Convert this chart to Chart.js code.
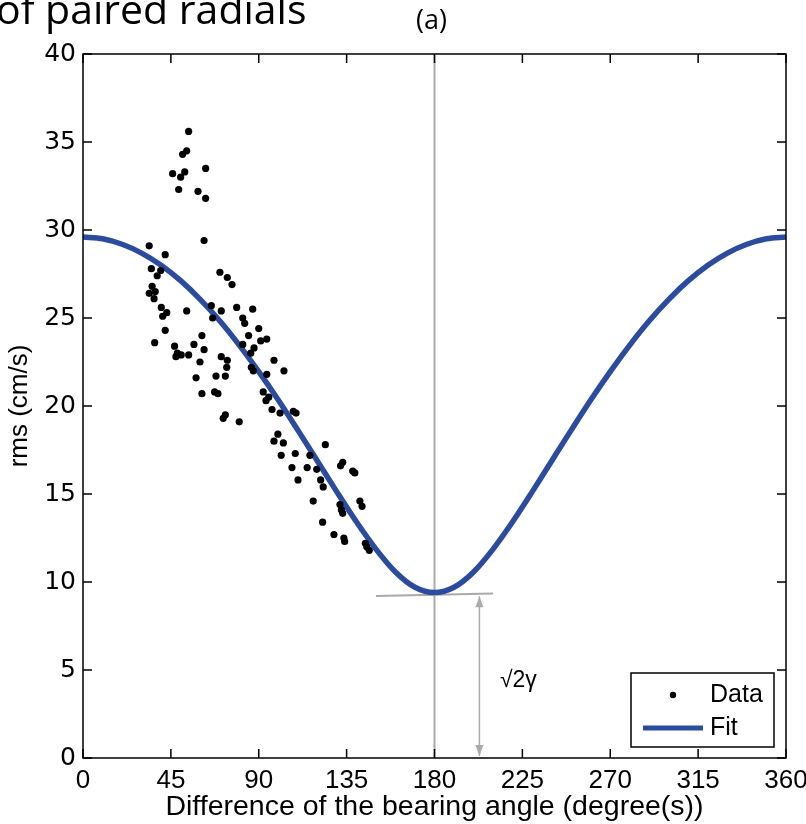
<!DOCTYPE html>
<html>
<head>
<meta charset="utf-8">
<script src="https://cdn.jsdelivr.net/npm/chart.js@4.4.1/dist/chart.umd.min.js"></script>
<style>
  html, body { margin: 0; padding: 0; background: #fff; }
  #wrap { position: relative; width: 806px; height: 824px; }
</style>
</head>
<body>
<div id="wrap"><canvas id="chart" width="806" height="824"></canvas></div>
<script>
// Scatter points: [angle (deg), rms (cm/s)]
const dataAngle = [54.1, 53.1, 51.0, 45.9, 50.0, 52.1, 62.8, 49.0, 58.9, 62.8, 62.0, 33.9, 42.1, 35.0, 39.8, 38.0,
  70.1, 73.9, 76.3, 35.4, 37.0, 33.9, 36.4, 40.1, 42.9, 40.8, 53.1, 65.7, 66.4, 70.8, 78.7, 42.1,
  60.9, 36.7, 46.9, 56.8, 62.0, 48.3, 50.3, 54.1, 47.6, 59.9, 70.8, 73.9, 73.6, 86.9, 81.8, 82.8,
  90.0, 84.8, 91.0, 94.1, 81.8, 87.6, 85.9, 97.8, 102.9, 86.2, 87.2, 94.1, 68.1, 72.9, 67.4, 69.1,
  60.9, 92.3, 95.1, 93.7, 96.8, 100.9, 107.7, 109.1, 80.0, 99.8, 97.8, 102.6, 124.1, 101.5, 108.7, 116.2,
  107.0, 114.8, 119.7, 110.1, 121.7, 123.0, 133.0, 131.9, 138.1, 139.2, 141.8, 142.9, 117.9, 131.6, 132.3, 133.0,
  122.7, 128.5, 133.6, 134.0, 144.6, 145.3, 146.6, 71.8, 72.9, 57.9];
const dataRms = [35.6, 34.5, 34.3, 33.2, 33.0, 33.3, 33.5, 32.3, 32.2, 31.8, 29.4, 29.1, 28.6, 27.8, 27.7, 27.4,
  27.6, 27.3, 26.9, 26.8, 26.5, 26.4, 26.1, 25.6, 25.3, 25.1, 25.4, 25.7, 25.0, 25.4, 25.6, 24.3,
  24.0, 23.6, 23.4, 23.5, 23.2, 23.0, 22.9, 22.9, 22.8, 22.5, 22.8, 22.6, 22.2, 25.5, 25.0, 24.7,
  24.4, 24.0, 23.7, 23.8, 23.5, 23.3, 23.0, 22.6, 22.0, 22.2, 22.0, 21.8, 21.7, 21.7, 20.8, 20.7,
  20.7, 20.8, 20.5, 20.3, 19.8, 19.6, 19.7, 19.6, 19.1, 18.4, 18.0, 17.9, 17.8, 17.2, 17.3, 17.2,
  16.5, 16.5, 16.4, 15.8, 15.8, 15.4, 16.8, 16.6, 16.3, 16.2, 14.6, 14.3, 14.6, 14.4, 14.1, 13.9,
  13.4, 12.7, 12.5, 12.3, 12.2, 12.0, 11.8, 19.3, 19.5, 21.6];

// Fit curve
const fitAngle = [0, 10, 20, 30, 40, 50, 60, 70, 80, 90, 100, 110, 120, 130, 140, 150, 160, 170, 180,
  190, 200, 210, 220, 230, 240, 250, 260, 270, 280, 290, 300, 310, 320, 330, 340, 350, 360];
const fitRms = [29.60, 29.50, 29.19, 28.69, 28.00, 27.12, 26.06, 24.84, 23.46, 21.95, 20.34, 18.63, 16.88, 15.12, 13.42, 11.87, 10.57, 9.70, 9.40,
  9.70, 10.57, 11.87, 13.42, 15.12, 16.88, 18.63, 20.34, 21.95, 23.46, 24.84, 26.06, 27.12, 28.00, 28.69, 29.19, 29.50, 29.60];

const xTicks = [0, 45, 90, 135, 180, 225, 270, 315, 360];
const yTicks = [0, 5, 10, 15, 20, 25, 30, 35, 40];

const fitColor = '#2b4c9e';
const greyColor = '#aaaaaa';

let scatterPts = [];
for (let i = 0; i < dataAngle.length; i++) {
    scatterPts.push({ x: dataAngle[i], y: dataRms[i] })
}
let fitPts = [];
for (let i = 0; i < fitAngle.length; i++) {
    fitPts.push({ x: fitAngle[i], y: fitRms[i] })
}

// grey guide lines, arrow and sqrt(2)gamma label
const guides = {
    id: 'guides',
    beforeDatasetsDraw(chart) {
        const ctx = chart.ctx, x = chart.scales.x, y = chart.scales.y, a = chart.chartArea;
        ctx.save();
        ctx.strokeStyle = greyColor;
        ctx.lineWidth = 2;
        ctx.beginPath();
        ctx.moveTo(x.getPixelForValue(180), a.top);
        ctx.lineTo(x.getPixelForValue(180), a.bottom);
        ctx.moveTo(x.getPixelForValue(150), y.getPixelForValue(9.2));
        ctx.lineTo(x.getPixelForValue(210), y.getPixelForValue(9.35));
        ctx.stroke();

        const ax = x.getPixelForValue(203);
        const top = y.getPixelForValue(9.3) + 2, bot = a.bottom - 2;
        ctx.lineWidth = 1.5;
        ctx.beginPath();
        ctx.moveTo(ax, top); ctx.lineTo(ax, bot);
        ctx.stroke();
        ctx.fillStyle = greyColor;
        ctx.beginPath();
        ctx.moveTo(ax, top); ctx.lineTo(ax - 4, top + 11); ctx.lineTo(ax + 4, top + 11); ctx.closePath();
        ctx.moveTo(ax, bot); ctx.lineTo(ax - 4, bot - 11); ctx.lineTo(ax + 4, bot - 11); ctx.closePath();
        ctx.fill();

        ctx.fillStyle = '#000';
        ctx.font = '23px "Liberation Sans"';
        ctx.textBaseline = 'middle';
        ctx.fillText('\u221A2\u03B3', x.getPixelForValue(213.5), y.getPixelForValue(4.4));
        ctx.restore();
    }
};

// box, inward ticks, legend and the texts above the plot
const frame = {
    id: 'frame',
    afterDraw(chart) {
        const ctx = chart.ctx, x = chart.scales.x, y = chart.scales.y, a = chart.chartArea;
        ctx.save();
        ctx.strokeStyle = '#000';
        ctx.lineWidth = 1.5;
        ctx.strokeRect(a.left, a.top, a.right - a.left, a.bottom - a.top);
        ctx.beginPath();
        xTicks.forEach(v => {
            const px = x.getPixelForValue(v);
            ctx.moveTo(px, a.bottom); ctx.lineTo(px, a.bottom - 9);
            ctx.moveTo(px, a.top); ctx.lineTo(px, a.top + 9);
        });
        yTicks.forEach(v => {
            const py = y.getPixelForValue(v);
            ctx.moveTo(a.left, py); ctx.lineTo(a.left + 9, py);
            ctx.moveTo(a.right, py); ctx.lineTo(a.right - 9, py);
        });
        ctx.stroke();

        // legend
        const lx = a.right - 155, ly = a.bottom - 85, lw = 143, lh = 74;
        ctx.fillStyle = '#fff';
        ctx.fillRect(lx, ly, lw, lh);
        ctx.strokeRect(lx, ly, lw, lh);
        ctx.fillStyle = '#000';
        ctx.beginPath();
        ctx.arc(lx + 42, ly + 22, 3.2, 0, Math.PI * 2);
        ctx.fill();
        ctx.strokeStyle = fitColor;
        ctx.lineWidth = 5;
        ctx.beginPath();
        ctx.moveTo(lx + 12, ly + 55); ctx.lineTo(lx + 72, ly + 55);
        ctx.stroke();
        ctx.font = '25px "Liberation Sans"';
        ctx.textBaseline = 'middle';
        ctx.fillText('Data', lx + 79, ly + 22);
        ctx.fillText('Fit', lx + 79, ly + 55);

        // texts above
        ctx.font = '41px "Open Sans"';
        ctx.textBaseline = 'alphabetic';
        ctx.fillText('of paired radials', -4, 24);
        ctx.font = '27px "Open Sans"';
        ctx.textAlign = 'center';
        ctx.textBaseline = 'middle';
        ctx.fillText('(a)', x.getPixelForValue(180) - 3, 21);
        ctx.restore();
    }
};

new Chart(document.getElementById('chart'), {
    type: 'scatter',
    data: {
        datasets: [{
            label: 'Data',
            data: scatterPts,
            backgroundColor: '#000',
            borderColor: '#000',
            pointRadius: 3.6,
            pointBorderWidth: 0,
            order: 1
        }, {
            label: 'Fit',
            type: 'line',
            data: fitPts,
            borderColor: fitColor,
            borderWidth: 5.5,
            pointRadius: 0,
            fill: false,
            cubicInterpolationMode: 'monotone',
            order: 2
        }]
    },
    options: {
        responsive: false,
        animation: false,
        layout: { padding: { top: 54, right: 20, left: 0, bottom: 0 } },
        plugins: { legend: { display: false }, tooltip: { enabled: false } },
        scales: {
            x: {
                type: 'linear', min: 0, max: 360,
                afterFit: s => { s.height = 66; s.paddingLeft = 0; s.paddingRight = 0 },
                afterBuildTicks: s => { s.ticks = xTicks.map(v => ({ value: v })) },
                grid: { display: false, drawTicks: false },
                border: { display: false },
                ticks: { color: '#000', padding: 7, font: { family: 'Liberation Sans Narrow, Liberation Sans', size: 26 } },
                title: {
                    display: true, text: 'Difference of the bearing angle (degree(s))', color: '#000',
                    padding: { top: 0, bottom: 0 }, font: { family: 'Liberation Sans Narrow, Liberation Sans', size: 28.5 }
                }
            },
            y: {
                type: 'linear', min: 0, max: 40,
                afterFit: s => { s.width = 83 },
                afterBuildTicks: s => { s.ticks = yTicks.map(v => ({ value: v })) },
                grid: { display: false, drawTicks: false },
                border: { display: false },
                ticks: { color: '#000', padding: 7, font: { family: 'DejaVu Sans', size: 25 } },
                title: {
                    display: true, text: 'rms (cm/s)', color: '#000',
                    padding: { top: 4, bottom: 0 }, font: { family: 'Liberation Sans', size: 26 }
                }
            }
        }
    },
    plugins: [guides, frame]
});
</script>
</body>
</html>
